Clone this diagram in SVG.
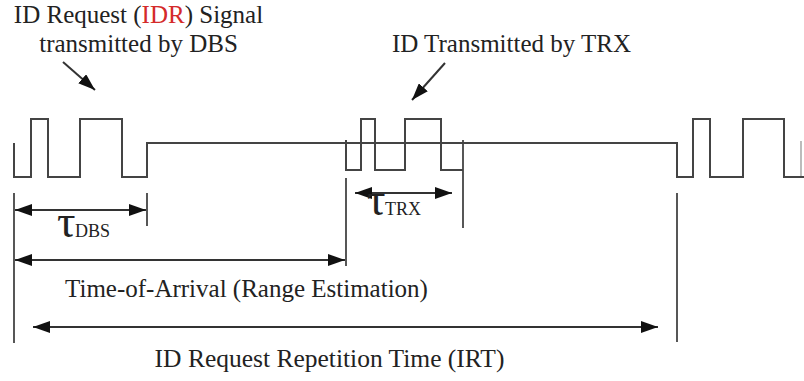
<svg xmlns="http://www.w3.org/2000/svg" width="804" height="381" viewBox="0 0 804 381">
<style>
.sig{fill:none;stroke:#444;stroke-width:2}
.ln{fill:none;stroke:#444;stroke-width:1.8}
.ar{fill:none;stroke:#333;stroke-width:2}
.t{font-family:"Liberation Serif","Times New Roman",serif;fill:#222}
.tau{font-family:"Liberation Serif","Times New Roman",serif;fill:#222;font-size:46px}
.sub{font-family:"Liberation Serif","Times New Roman",serif;fill:#222;font-size:18px}
</style>
<defs>
<marker id="ah" viewBox="0 0 17 12" refX="17" refY="6" markerWidth="17" markerHeight="12" markerUnits="userSpaceOnUse" orient="auto-start-reverse">
<path d="M0,0 L17,6 L0,12 Z" fill="#111"/>
</marker>
</defs>
<rect width="804" height="381" fill="#fff"/>
<g id="signal">
<path class="sig" d="M14,143 V177 H31 V119 H48 V177 H80 V119 H122 V177 H147 V143 H677 V177 H693 V119 H710 V177 H743 V119 H784 V177 H804"/>
<path class="sig" d="M346,140 V170 H361 V119 H375 V170 H405 V119 H441 V170 H463"/>
<line class="ln" x1="801" y1="141" x2="801" y2="177" stroke-opacity="0.4"/>
</g>
<g id="guides">
<line class="ln" x1="14" y1="193" x2="14" y2="343"/>
<line class="ln" x1="147" y1="193" x2="147" y2="226"/>
<line class="ln" x1="346" y1="178" x2="346" y2="266"/>
<line class="ln" x1="463" y1="140" x2="463" y2="228"/>
<line class="ln" x1="677" y1="193" x2="677" y2="342"/>
</g>
<g id="connectors">
<line class="ar" x1="15" y1="210" x2="146" y2="210" marker-start="url(#ah)" marker-end="url(#ah)"/>
<line class="ar" x1="355" y1="193" x2="452" y2="193" marker-start="url(#ah)" marker-end="url(#ah)"/>
<line class="ar" x1="15" y1="260" x2="345" y2="260" marker-start="url(#ah)" marker-end="url(#ah)"/>
<line class="ar" x1="33" y1="327" x2="658" y2="327" marker-start="url(#ah)" marker-end="url(#ah)"/>
<line class="ar" x1="63" y1="62" x2="95" y2="90" marker-end="url(#ah)"/>
<line class="ar" x1="445" y1="63" x2="412" y2="100" marker-end="url(#ah)"/>
</g>
<g id="label-idr">
<text class="t" x="138.5" y="23" font-size="25" text-anchor="middle">ID Request (<tspan fill="#d42a2a">IDR</tspan>) Signal</text>
<text class="t" x="138.5" y="52" font-size="25" text-anchor="middle">transmitted by DBS</text>
</g>
<g id="label-trx">
<text class="t" x="511.5" y="52" font-size="25" text-anchor="middle">ID Transmitted by TRX</text>
</g>
<g id="label-tau-dbs">
<text class="tau" x="57" y="237">τ</text>
<text class="sub" x="75" y="237">DBS</text>
</g>
<g id="label-tau-trx">
<text class="tau" x="367" y="215">τ</text>
<text class="sub" x="385" y="215">TRX</text>
</g>
<g id="label-toa">
<text class="t" x="246.5" y="297" font-size="25" text-anchor="middle">Time-of-Arrival (Range Estimation)</text>
</g>
<g id="label-irt">
<text class="t" x="329.5" y="367" font-size="25.5" text-anchor="middle">ID Request Repetition Time (IRT)</text>
</g>
</svg>
